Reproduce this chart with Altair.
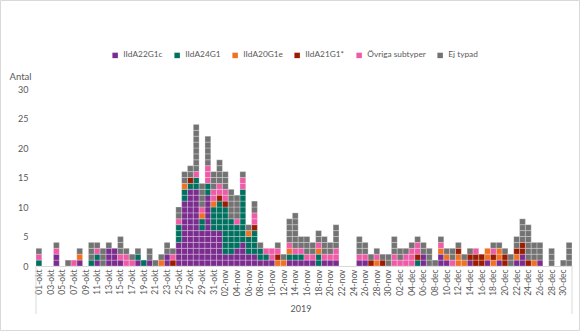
import altair as alt
import pandas as pd

# --- categories -------------------------------------------------------------
months = [("okt", 31), ("nov", 30), ("dec", 31)]
days = [f"{d:02d}-{m}" for m, n in months for d in range(1, n + 1)]
tick_days = days[::2]

series = ["IIdA22G1c", "IIdA24G1", "IIdA20G1e", "IIdA21G1*", "Övriga subtyper", "Ej typad"]
colors = ["#7B2C8F", "#00705F", "#F07123", "#9B1C00", "#EE5BA6", "#737373"]

# --- daily counts per subtype (01-okt ... 31-dec) ---------------------------
IIdA22G1c = [0, 0, 0, 2, 0, 0, 0, 1, 0, 0,
             1, 0, 3, 3, 1, 0, 0, 1, 0, 1,
             0, 0, 2, 0, 4, 11, 13, 13, 6, 12,
             6, 6, 2, 2, 3, 4, 2, 2, 1, 1,
             1, 0, 0, 1, 1, 1, 1, 1, 0, 1,
             1, 1, 0, 0, 0, 1, 1, 0, 0, 0,
             0, 0, 0, 0, 0, 0, 2, 0, 0, 2,
             1, 0, 0, 0, 1, 0, 0, 1, 0, 1,
             0, 0, 1, 2, 0, 0, 1, 0, 0, 0,
             0, 0]
IIdA24G1 = [1, 0, 0, 0, 0, 0, 0, 0, 0, 1,
            1, 0, 0, 0, 0, 0, 0, 1, 1, 0,
            0, 0, 0, 0, 3, 2, 1, 2, 2, 2,
            4, 5, 8, 6, 4, 9, 3, 4, 2, 1,
            0, 0, 0, 1, 1, 1, 0, 0, 2, 0,
            0, 0, 0, 0, 0, 0, 0, 0, 0, 0,
            0, 0, 0, 0, 0, 1, 0, 0, 0, 0,
            0, 0, 0, 0, 0, 0, 0, 0, 0, 0,
            0, 0, 0, 0, 0, 0, 0, 0, 0, 0,
            0, 0]
IIdA20G1e = [0, 0, 0, 0, 0, 0, 0, 1, 0, 0,
             0, 0, 0, 0, 0, 0, 0, 0, 0, 0,
             0, 1, 0, 0, 0, 1, 0, 0, 1, 0,
             1, 0, 0, 0, 0, 0, 1, 0, 0, 0,
             0, 1, 1, 1, 0, 0, 0, 0, 1, 0,
             0, 0, 0, 0, 0, 0, 0, 0, 1, 0,
             0, 0, 0, 0, 0, 0, 0, 0, 0, 1,
             1, 0, 2, 1, 0, 0, 0, 2, 1, 2,
             0, 0, 1, 0, 0, 1, 0, 0, 0, 0,
             0, 0]
IIdA21G1 = [0, 0, 0, 0, 0, 0, 0, 0, 0, 0,
            0, 0, 0, 0, 0, 0, 0, 0, 0, 0,
            0, 0, 0, 1, 0, 0, 1, 0, 0, 0,
            0, 1, 1, 0, 0, 0, 0, 1, 0, 0,
            0, 1, 0, 0, 0, 0, 0, 0, 0, 0,
            0, 0, 0, 0, 0, 0, 0, 1, 0, 1,
            0, 0, 0, 0, 0, 1, 0, 0, 0, 0,
            0, 0, 1, 0, 1, 2, 2, 0, 1, 0,
            2, 0, 1, 2, 1, 0, 0, 0, 0, 0,
            0, 0]
ovriga = [1, 0, 0, 1, 0, 0, 1, 0, 0, 0,
          1, 0, 0, 0, 1, 2, 1, 0, 0, 0,
          0, 0, 0, 1, 1, 0, 0, 1, 1, 3,
          2, 2, 2, 0, 1, 2, 0, 2, 0, 1,
          2, 1, 0, 1, 1, 1, 1, 1, 1, 1,
          1, 2, 0, 0, 0, 1, 1, 0, 1, 0,
          0, 2, 1, 2, 3, 2, 0, 0, 0, 1,
          0, 1, 0, 0, 0, 1, 0, 0, 1, 0,
          0, 0, 0, 0, 0, 0, 0, 0, 0, 0,
          0, 0]
ej_typad = [1, 0, 0, 1, 0, 1, 0, 1, 0, 3,
            1, 3, 1, 0, 3, 1, 1, 1, 0, 2,
            1, 1, 2, 1, 2, 2, 2, 8, 4, 5,
            3, 4, 3, 5, 4, 1, 1, 2, 1, 0,
            0, 1, 1, 4, 6, 2, 3, 2, 2, 3,
            2, 4, 0, 0, 0, 3, 2, 1, 1, 1,
            2, 3, 2, 1, 1, 1, 2, 3, 1, 1,
            1, 2, 1, 1, 1, 0, 0, 0, 1, 1,
            1, 2, 2, 4, 6, 3, 3, 0, 3, 0,
            1, 4]

y_ticks = [0, 5, 10, 15, 20, 25, 30]

# one row per case so every case is drawn as its own stacked cell
rows = []
for s_idx, (name, vals) in enumerate(zip(series, [IIdA22G1c, IIdA24G1, IIdA20G1e, IIdA21G1, ovriga, ej_typad])):
    for d, v in zip(days, vals):
        for _ in range(v):
            rows.append({"dag": d, "subtyp": name, "ordning": s_idx, "antal": 1})
df = pd.DataFrame(rows)

W, H = 536, 177
TXT = "#595959"
FONT = "Lato"

bars = alt.Chart(df).mark_bar(stroke="white", strokeWidth=0.7, strokeOpacity=0.38).encode(
    x=alt.X("dag:N", sort=days,
            scale=alt.Scale(domain=days, paddingInner=0, paddingOuter=0),
            axis=alt.Axis(title=None, values=tick_days, labelAngle=-90, labelFontSize=8.5,
                          labelColor=TXT, labelFont=FONT, ticks=False, domainColor="#D9D9D9",
                          labelPadding=3, labelOverlap=False)),
    y=alt.Y("antal:Q", stack="zero",
            scale=alt.Scale(domain=[0, 30], nice=False),
            axis=alt.Axis(values=y_ticks, grid=False, domain=False, ticks=False,
                          labelPadding=8, labelFontSize=9, labelColor=TXT, labelFont=FONT,
                          title="Antal", titleAngle=0, titleAlign="left", titleBaseline="middle",
                          titleX=-27, titleY=-13, titleFontWeight="normal", titleFontSize=9.5,
                          titleColor=TXT, titleFont=FONT)),
    color=alt.Color("subtyp:N", scale=alt.Scale(domain=series, range=colors),
                    legend=alt.Legend(title=None, orient="none", direction="horizontal",
                                      legendX=75, legendY=-38, symbolType="square", symbolSize=30,
                                      symbolStrokeWidth=0, labelFontSize=8.3, labelColor=TXT,
                                      labelFont=FONT, columnPadding=10, labelOffset=4, padding=0)),
    order=alt.Order("ordning:Q", sort="ascending"),
)

one = pd.DataFrame({"lbl": ["2019"]})
year_text = alt.Chart(one).mark_text(fontSize=9, color=TXT, font=FONT).encode(
    text="lbl:N", x=alt.value(W / 2 - 3), y=alt.value(220))
left_rule = alt.Chart(one).mark_rule(color="#D9D9D9", strokeWidth=1).encode(
    x=alt.value(0), y=alt.value(H), y2=alt.value(225))
right_rule = alt.Chart(one).mark_rule(color="#D9D9D9", strokeWidth=1).encode(
    x=alt.value(W), y=alt.value(H), y2=alt.value(225))
frame = alt.Chart(one).mark_rect(filled=False, stroke="#D9D9D9", strokeWidth=1).encode(
    x=alt.value(-35.5), x2=alt.value(W + 7.5), y=alt.value(-88.5), y2=alt.value(H + 64.5))

chart = alt.layer(frame, bars, left_rule, right_rule, year_text).properties(
    width=W, height=H,
    padding={"left": 36, "top": 89, "right": 8, "bottom": 65},
    autosize=alt.AutoSizeParams(type="none"),
    background="white",
).configure_view(stroke=None)

chart.save("out.html", embed_options={"renderer": "svg", "actions": False})
